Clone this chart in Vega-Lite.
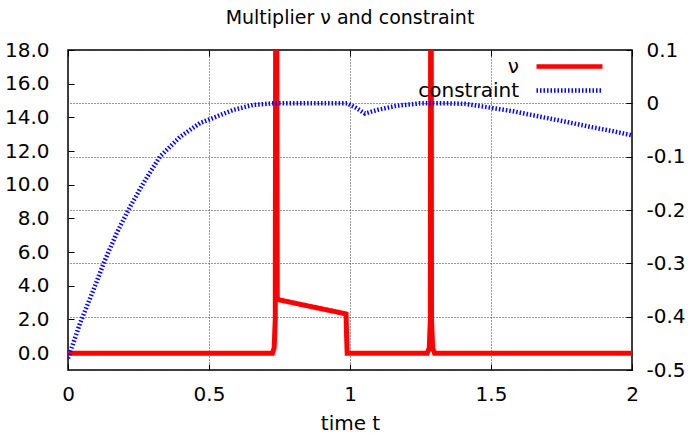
{
  "$schema": "https://vega.github.io/schema/vega-lite/v6.json",
  "width": 564,
  "height": 320,
  "autosize": {"type": "none"},
  "padding": {"left": 68, "top": 50, "right": 58, "bottom": 64},
  "background": "#ffffff",
  "title": {"text": "Multiplier ν and constraint", "font": "DejaVu Sans", "fontSize": 19, "fontWeight": "normal", "color": "#000000", "anchor": "middle", "frame": "group", "offset": 12},
  "config": {
    "view": {"stroke": "#000000", "strokeWidth": 1.5},
    "axis": {"domain": false, "labelFont": "DejaVu Sans", "labelFontSize": 20, "labelColor": "#000000", "titleFont": "DejaVu Sans", "titleFontSize": 20, "titleFontWeight": "normal", "titleColor": "#000000", "tickColor": "#000000", "tickSize": -6, "tickWidth": 1},
    "legend": {"labelFont": "DejaVu Sans", "labelFontSize": 20, "labelColor": "#000000"}
  },
  "data": {"values": [
    {"series": "ν", "t": 0, "v": 0},
    {"series": "ν", "t": 0.725, "v": 0},
    {"series": "ν", "t": 0.731, "v": 0.3},
    {"series": "ν", "t": 0.735, "v": 2},
    {"series": "ν", "t": 0.738, "v": 40},
    {"series": "ν", "t": 0.742, "v": 3.25},
    {"series": "ν", "t": 0.75, "v": 3.16},
    {"series": "ν", "t": 0.986, "v": 2.33},
    {"series": "ν", "t": 0.988, "v": 1},
    {"series": "ν", "t": 0.99, "v": 0},
    {"series": "ν", "t": 1.274, "v": 0},
    {"series": "ν", "t": 1.281, "v": 0.3},
    {"series": "ν", "t": 1.285, "v": 2},
    {"series": "ν", "t": 1.287, "v": 40},
    {"series": "ν", "t": 1.289, "v": 2},
    {"series": "ν", "t": 1.293, "v": 0.3},
    {"series": "ν", "t": 1.3, "v": 0},
    {"series": "ν", "t": 2, "v": 0},
    {"series": "constraint", "t": 0, "v": -0.478},
    {"series": "constraint", "t": 0.043, "v": -0.412},
    {"series": "constraint", "t": 0.09, "v": -0.35},
    {"series": "constraint", "t": 0.131, "v": -0.294},
    {"series": "constraint", "t": 0.173, "v": -0.243},
    {"series": "constraint", "t": 0.22, "v": -0.194},
    {"series": "constraint", "t": 0.267, "v": -0.15},
    {"series": "constraint", "t": 0.326, "v": -0.1},
    {"series": "constraint", "t": 0.397, "v": -0.063},
    {"series": "constraint", "t": 0.468, "v": -0.037},
    {"series": "constraint", "t": 0.514, "v": -0.0275},
    {"series": "constraint", "t": 0.585, "v": -0.0125},
    {"series": "constraint", "t": 0.656, "v": -0.003},
    {"series": "constraint", "t": 0.727, "v": 0},
    {"series": "constraint", "t": 0.85, "v": 0},
    {"series": "constraint", "t": 0.99, "v": 0},
    {"series": "constraint", "t": 1.02, "v": -0.008},
    {"series": "constraint", "t": 1.053, "v": -0.019},
    {"series": "constraint", "t": 1.1, "v": -0.012},
    {"series": "constraint", "t": 1.166, "v": -0.0045},
    {"series": "constraint", "t": 1.248, "v": 0},
    {"series": "constraint", "t": 1.35, "v": 0},
    {"series": "constraint", "t": 1.408, "v": -0.001},
    {"series": "constraint", "t": 1.496, "v": -0.008},
    {"series": "constraint", "t": 1.58, "v": -0.015},
    {"series": "constraint", "t": 1.674, "v": -0.025},
    {"series": "constraint", "t": 1.76, "v": -0.034},
    {"series": "constraint", "t": 1.851, "v": -0.044},
    {"series": "constraint", "t": 1.93, "v": -0.052},
    {"series": "constraint", "t": 2.0, "v": -0.06}
  ]},
  "layer": [
    {
      "transform": [{"filter": "datum.series === 'ν'"}],
      "mark": {"type": "line", "clip": true, "strokeWidth": 5, "strokeCap": "butt", "strokeJoin": "miter"},
      "encoding": {
        "x": {"field": "t", "type": "quantitative", "scale": {"domain": [0, 2], "nice": false, "zero": false},
              "axis": {"orient": "bottom", "values": [0, 0.5, 1, 1.5, 2], "format": "~g", "labelPadding": 20, "title": "time t", "titlePadding": 9,
                       "grid": true, "gridColor": "#333333", "gridDash": [1, 2], "gridWidth": 1, "labelFlush": false}},
        "y": {"field": "v", "type": "quantitative", "scale": {"domain": [-1, 18], "nice": false, "zero": false},
              "axis": {"orient": "left", "values": [0, 2, 4, 6, 8, 10, 12, 14, 16, 18], "format": ".1f", "labelPadding": 25, "title": null, "grid": false}},
        "color": {"field": "series", "type": "nominal", "scale": {"domain": ["ν", "constraint"], "range": ["#ff0000", "#0000ff"]},
                  "legend": {"title": null, "orient": "none", "legendX": 488, "legendY": 3, "padding": 0, "symbolType": "M-3,0L3,0", "symbolSize": 484, "symbolStrokeWidth": 4.5, "labelAlign": "right", "labelOffset": -64, "rowPadding": 0}},
        "strokeDash": {"field": "series", "type": "nominal", "scale": {"domain": ["ν", "constraint"], "range": [[1, 0], [1.5, 2]]}, "legend": {"title": null}}
      }
    },
    {
      "transform": [{"filter": "datum.series === 'constraint'"}],
      "mark": {"type": "line", "clip": true, "strokeWidth": 4.5, "strokeCap": "butt"},
      "encoding": {
        "x": {"field": "t", "type": "quantitative",
              "axis": {"orient": "top", "values": [0, 0.5, 1, 1.5, 2], "labels": false, "title": null, "grid": false}},
        "y": {"field": "v", "type": "quantitative", "scale": {"domain": [-0.5, 0.1], "nice": false, "zero": false},
              "axis": {"orient": "right", "values": [-0.5, -0.4, -0.3, -0.2, -0.1, 0, 0.1], "labelPadding": 20, "title": null,
                       "labelExpr": "datum.value < 0 ? '-' + format(-datum.value, '.1f') : (datum.value == 0 ? '0' : format(datum.value, '.1f'))",
                       "grid": true, "gridColor": "#333333", "gridDash": [1, 2], "gridWidth": 1}},
        "color": {"field": "series", "type": "nominal"},
        "strokeDash": {"field": "series", "type": "nominal"}
      }
    }
  ],
  "resolve": {"scale": {"y": "independent"}, "axis": {"x": "independent", "y": "independent"}}
}
